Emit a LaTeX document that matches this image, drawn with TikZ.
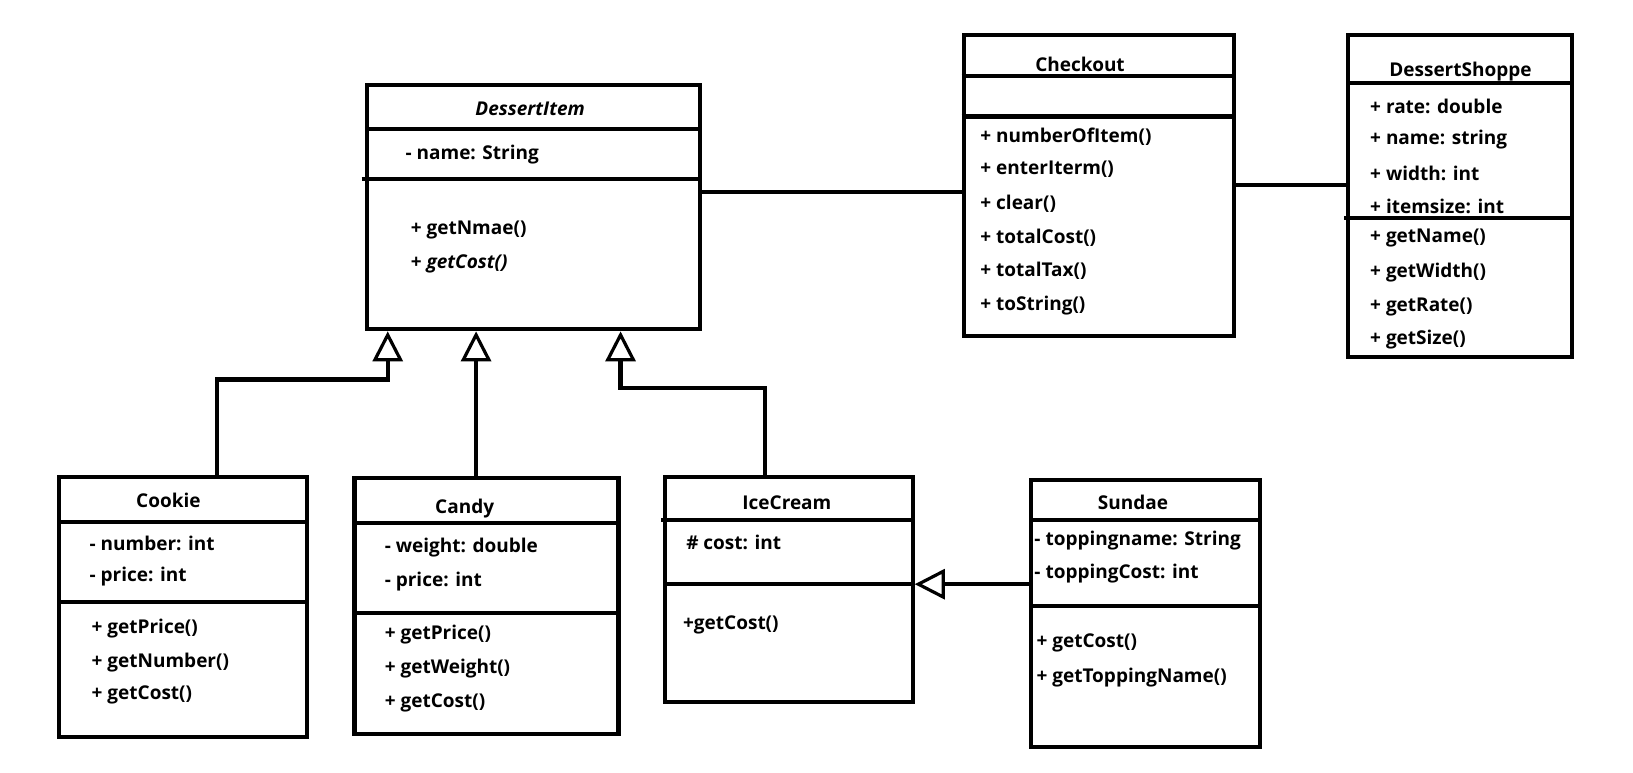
\documentclass[tikz,border=0pt]{standalone}
\usepackage{fontspec}
\setmainfont{Open Sans}
\usetikzlibrary{arrows.meta}
\begin{document}
\begin{tikzpicture}[x=1.0395pt,y=-1.0395pt,
  cls/.style={draw,line width=4.2pt,anchor=north west,inner sep=0pt},
  sep/.style={line width=4.2pt},
  conn/.style={line width=4.2pt},
  gen/.style={line width=4.2pt,-{Triangle[open,length=30pt,width=30pt,line width=3.2pt]}},
  ttl/.style={font=\fontsize{19}{22}\selectfont\bfseries,inner sep=0pt,yshift=-2pt},
  txt/.style={font=\fontsize{19}{22}\selectfont\bfseries,anchor=west,inner sep=0pt,yshift=-2pt}]
\useasboundingbox (0,0) rectangle (1571,742.7);
% DessertItem
\node[cls,minimum width=333pt,minimum height=244pt] (di) at (351,80) {};
\draw[sep] (351,124) -- (672,124);
\draw[sep] (348,172) -- (672,172);
\node[ttl,font=\fontsize{19}{22}\selectfont\bfseries\itshape] (dit) at (510,103) {DessertItem};
\node[txt] (di1) at (390,147) {- name: String};
\node[txt] (di2) at (395,219) {+ getNmae()};
\node[txt] (di3) at (395,252) {+ \textit{getCost()}};
% Checkout
\node[cls,minimum width=270pt,minimum height=301pt] (co) at (925,32) {};
\draw[sep] (925,73) -- (1185,73);
\draw[sep] (925,112) -- (1185,112);
\node[ttl] (cot) at (1039,60) {Checkout};
\node[txt] (co1) at (943,130) {+ numberOfItem()};
\node[txt] (co2) at (943,161) {+ enterIterm()};
\node[txt] (co3) at (943,194) {+ clear()};
\node[txt] (co4) at (943,227) {+ totalCost()};
\node[txt] (co5) at (943,259) {+ totalTax()};
\node[txt] (co6) at (943,292) {+ toString()};
% DessertShoppe
\node[cls,minimum width=223.5pt,minimum height=322pt] (ds) at (1295,32) {};
\draw[sep] (1295,80) -- (1510,80);
\draw[sep] (1293,210) -- (1510,210);
\node[ttl] (dst) at (1405,67) {DessertShoppe};
\node[txt] (ds1) at (1318,100) {+ rate: double};
\node[txt] (ds2) at (1318,132) {+ name: string};
\node[txt] (ds3) at (1318,165) {+ width: int};
\node[txt] (ds4) at (1318,197) {+ itemsize: int};
\node[txt] (ds5) at (1318,227) {+ getName()};
\node[txt] (ds6) at (1318,260) {+ getWidth()};
\node[txt] (ds7) at (1318,293) {+ getRate()};
\node[txt] (ds8) at (1318,325) {+ getSize()};
% Cookie
\node[cls,minimum width=247.4pt,minimum height=260pt] (ck) at (55,457) {};
\draw[sep] (55,502) -- (293,502);
\draw[sep] (55,579) -- (297,579);
\node[ttl] (ckt) at (162,479) {Cookie};
\node[txt] (ck1) at (86,521) {- number: int};
\node[txt] (ck2) at (86,553) {- price: int};
\node[txt] (ck3) at (88,603) {+ getPrice()};
\node[txt] (ck4) at (88,635) {+ getNumber()};
\node[txt] (ck5) at (88,667) {+ getCost()};
% Candy
\node[cls,minimum width=264pt,minimum height=255.7pt] (cd) at (339,458) {};
\draw[sep] (339,503) -- (597,503);
\draw[sep] (339,590) -- (597,590);
\node[ttl] (cdt) at (447,487) {Candy};
\node[txt] (cd1) at (370,525) {- weight: double};
\node[txt] (cd2) at (370,558) {- price: int};
\node[txt] (cd3) at (370,609) {+ getPrice()};
\node[txt] (cd4) at (370,641) {+ getWeight()};
\node[txt] (cd5) at (370,674) {+ getCost()};
% IceCream
\node[cls,minimum width=247.4pt,minimum height=224.5pt] (ic) at (638,457) {};
\draw[sep] (636,500) -- (880,500);
\draw[sep] (638,562) -- (876,562);
\node[ttl] (ict) at (757,482) {IceCream};
\node[txt] (ic1) at (660,520) {\# cost: int};
\node[txt] (ic2) at (657,599) {+getCost()};
% Sundae
\node[cls,minimum width=228.7pt,minimum height=267pt] (sd) at (990,460) {};
\draw[sep] (990,500) -- (1214,500);
\draw[sep] (990,583) -- (1214,583);
\node[ttl] (sdt) at (1090,481) {Sundae};
\node[txt] (sd1) at (995,518) {- toppingname: String};
\node[txt] (sd2) at (995,550) {- toppingCost: int};
\node[txt] (sd3) at (997,617) {+ getCost()};
\node[txt] (sd4) at (997,650) {+ getToppingName()};
% associations
\draw[conn] (di.east |- 0,185) -- (co.west |- 0,185);
\draw[conn] (co.east |- 0,178) -- (ds.west |- 0,178);
% generalizations
\coordinate (ckup) at (209,457);
\coordinate (cdup) at (458,458);
\coordinate (icup) at (736,457);
\draw[gen] (ckup) |- (373,365) -- (di.south -| 373,0);
\draw[gen] (cdup) -- (di.south -| 458,0);
\draw[gen] (icup) |- (597,373) -- (di.south -| 597,0);
\draw[gen] (sd.west |- 0,562) -- (ic.east |- 0,562);
\end{tikzpicture}
\end{document}
